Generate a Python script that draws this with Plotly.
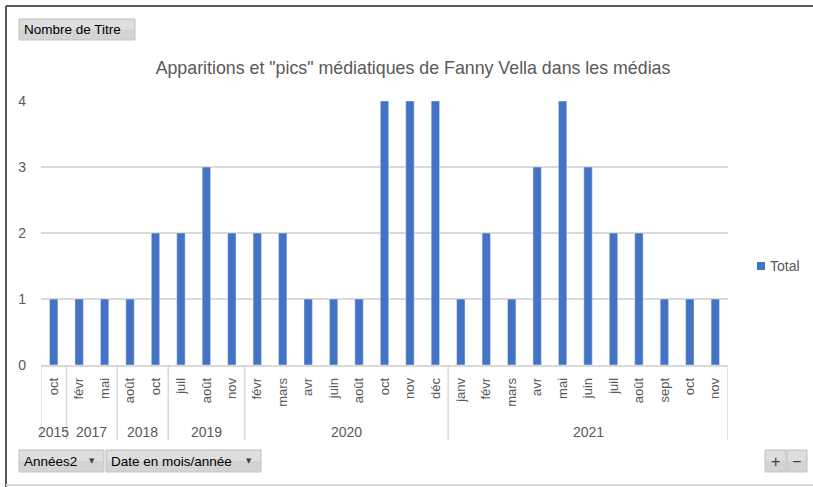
import plotly.graph_objects as go

# ---- data ----
years = ["2015", "2017", "2017", "2018", "2018", "2019", "2019", "2019",
         "2020", "2020", "2020", "2020", "2020", "2020", "2020", "2020",
         "2021", "2021", "2021", "2021", "2021", "2021", "2021", "2021", "2021", "2021", "2021"]
months = ["oct", "févr", "mai", "août", "oct", "juil", "août", "nov",
          "févr", "mars", "avr", "juin", "août", "oct", "nov", "déc",
          "janv", "févr", "mars", "avr", "mai", "juin", "juil", "août", "sept", "oct", "nov"]
totals = [1, 1, 1, 1, 2, 2, 3, 2,
          2, 2, 1, 1, 1, 4, 4, 4,
          1, 2, 1, 3, 4, 3, 2, 2, 1, 1, 1]
y_ticks = [0, 1, 2, 3, 4]
series_name = "Total"
title_text = 'Apparitions et "pics" médiatiques de Fanny Vella dans les médias'

# ---- geometry (pixels) ----
W, H = 813, 487
L, R, T, B = 41, 728, 101, 365
PW, PH = R - L, B - T

def fx(p):
    return (p - L) / PW

def fy(p):
    return (B - p) / PH

FONT = "Liberation Sans"
GRAY = "#595959"
LIGHT = "#D9D9D9"
BLUE = "#4472C4"

idx = list(range(len(totals)))

fig = go.Figure()
fig.add_trace(go.Bar(x=idx, y=totals, name=series_name, marker_color=BLUE,
                     width=0.33, showlegend=False))

shapes = []
annotations = []

# year dividers and labels
groups = []
start = 0
for i in range(1, len(years) + 1):
    if i == len(years) or years[i] != years[start]:
        groups.append((years[start], start, i - 1))
        start = i
bounds = sorted({g[1] - 0.5 for g in groups} | {groups[-1][2] + 0.5})
for b in bounds:
    shapes.append(dict(type="line", xref="x", yref="paper", x0=b, x1=b,
                       y0=0, y1=fy(440), line=dict(color=LIGHT, width=1.5)))
for name, s, e in groups:
    annotations.append(dict(x=(s + e) / 2, y=fy(432), xref="x", yref="paper",
                            text=name, showarrow=False, yanchor="middle",
                            font=dict(family=FONT, size=14, color=GRAY)))

# legend (Excel style: small square + label)
shapes.append(dict(type="rect", xref="paper", yref="paper",
                   x0=fx(757), x1=fx(765), y0=fy(262), y1=fy(270),
                   fillcolor=BLUE, line=dict(width=0)))
annotations.append(dict(x=fx(768), y=fy(266), xref="paper", yref="paper",
                        text=series_name, showarrow=False, xanchor="left", yanchor="middle",
                        font=dict(family=FONT, size=14, color=GRAY)))

# border of the chart frame
shapes.append(dict(type="line", xref="paper", yref="paper", x0=fx(6), x1=fx(813),
                   y0=fy(6), y1=fy(6), line=dict(color="#595959", width=2)))
shapes.append(dict(type="line", xref="paper", yref="paper", x0=fx(6), x1=fx(6),
                   y0=fy(6), y1=fy(487), line=dict(color="#595959", width=2)))
shapes.append(dict(type="line", xref="paper", yref="paper", x0=fx(6), x1=fx(813),
                   y0=fy(485), y1=fy(485), line=dict(color=LIGHT, width=2)))

# pivot buttons
def button(x0, x1, y0, y1, text, arrow=False, center=False, size=13.5):
    shapes.append(dict(type="rect", xref="paper", yref="paper",
                       x0=fx(x0), x1=fx(x1), y0=fy(y0), y1=fy(y1),
                       fillcolor="#D3D3D3", line=dict(color="#C4C4C4", width=1),
                       layer="above"))
    shapes.append(dict(type="rect", xref="paper", yref="paper",
                       x0=fx(x0 + 1), x1=fx(x1 - 1), y0=fy(y0 + 1), y1=fy((y0 + y1) / 2),
                       fillcolor="#DEDEDE", line=dict(width=0), layer="above"))
    if center:
        annotations.append(dict(x=fx((x0 + x1) / 2), y=fy((y0 + y1) / 2), xref="paper", yref="paper",
                                text=text, showarrow=False, xanchor="center", yanchor="middle",
                                font=dict(family=FONT, size=size, color="#404040")))
    else:
        annotations.append(dict(x=fx(x0 + 3), y=fy((y0 + y1) / 2), xref="paper", yref="paper",
                                text=text, showarrow=False, xanchor="left", yanchor="middle",
                                font=dict(family=FONT, size=size, color="black")))
    if arrow:
        annotations.append(dict(x=fx(x1 - 12), y=fy((y0 + y1) / 2), xref="paper", yref="paper",
                                text="▼", showarrow=False, xanchor="center", yanchor="middle",
                                font=dict(family="DejaVu Sans", size=7, color="#404040")))

button(19, 135, 19, 40, "Nombre de Titre")
button(19, 104, 450, 472, "Années2", arrow=True)
button(106, 261, 450, 472, "Date en mois/année", arrow=True)
button(765, 786, 450, 472, "+", center=True, size=16)
button(787, 807, 450, 472, "−", center=True, size=16)

fig.update_layout(
    width=W, height=H,
    margin=dict(l=L, r=W - R, t=T, b=H - B, autoexpand=False),
    paper_bgcolor="white", plot_bgcolor="white",
    title=dict(text=title_text, xref="container", yref="container",
               x=413 / W, y=1 - 68 / H, xanchor="center", yanchor="middle",
               font=dict(family=FONT, size=17.8, color=GRAY)),
    xaxis=dict(range=[-0.5, len(totals) - 0.5], tickmode="array", tickvals=idx,
               ticktext=months, tickangle=-90, showgrid=False, zeroline=False,
               showline=True, linecolor=LIGHT, linewidth=1.5, ticks="",
               ticklabelstandoff=6,
               tickfont=dict(family=FONT, size=13, color=GRAY)),
    yaxis=dict(range=[0, 4], tickmode="array", tickvals=y_ticks,
               showgrid=True, gridcolor=LIGHT, gridwidth=1.5, zeroline=False,
               showline=False, ticks="", ticklabelstandoff=14,
               tickfont=dict(family=FONT, size=14, color=GRAY)),
    showlegend=False,
    bargap=0.67,
    shapes=shapes,
    annotations=annotations,
)

fig.write_html("out.html", config={"displayModeBar": False},
               post_script="document.body.style.margin='0';document.body.style.overflow='hidden';")
